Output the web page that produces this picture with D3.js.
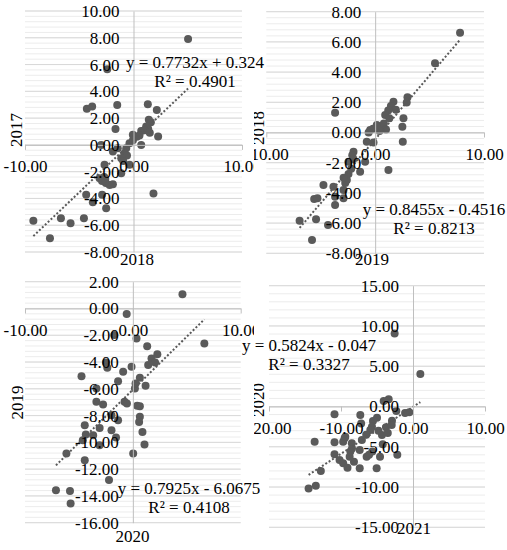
<!DOCTYPE html>
<html>
<head>
<meta charset="utf-8">
<script src="https://cdn.jsdelivr.net/npm/d3@7"></script>
</head>
<body style="margin:0">
<svg id="js-chart" width="507" height="550"></svg>
<script>

// data: [x, y] pairs
const pts2018vs2017 = [
	[5.03, 7.91], [-2.42, 5.65], [-4.3, 2.69], [-3.81, 2.86], [-1.5, 2.98], [-1.66, 1.19],
	[1.32, 3.04], [2.15, 2.61], [1.41, 1.87], [1.6, 1.7], [1.17, 1.37], [1.35, 1.2],
	[0.71, 1.04], [1.0, 1.1], [1.5, 0.9], [2.27, 0.62], [-0.06, 0.75], [0.3, 0.6],
	[0.55, 0.7], [0.71, 0.0], [-0.37, 0.12], [-0.05, 0.35], [-0.67, -0.25], [-0.83, -0.62],
	[-0.6, -0.8], [-1.13, -1.0], [-0.95, -1.2], [-2.98, 0.0], [-1.9, -0.5], [-1.45, -0.25],
	[-2.67, -1.49], [-0.37, -1.49], [-1.13, -2.11], [-3.13, -2.49], [-2.7, -2.4], [-2.9, -2.7],
	[-2.55, -2.85], [-2.2, -3.0], [-2.6, -2.55], [-1.9, -2.94], [-4.36, -3.73], [-2.89, -3.73],
	[-3.75, -4.28], [-2.52, -4.73], [1.84, -3.63], [-9.23, -5.67], [-7.7, -6.97], [-6.69, -5.47],
	[-5.8, -5.85], [-4.57, -5.47]
];
const pts2019vs2018 = [
	[7.8, 6.61], [5.5, 4.58], [2.97, 2.33], [2.9, 1.98], [1.68, 2.04], [1.45, 1.75],
	[1.9, 1.5], [1.2, 1.45], [0.92, 1.16], [1.3, 0.95], [2.6, 0.94], [2.5, 0.38],
	[2.54, -0.61], [1.22, -2.48], [-3.68, 1.31], [0.15, 0.5], [0.5, 0.35], [0.8, 0.6],
	[1.0, 0.2], [0.4, 0.1], [-0.2, 0.25], [-0.46, 0.17], [-0.6, 0.0], [-0.77, -0.61],
	[-0.15, -0.67], [-0.92, -1.93], [-1.99, -1.27], [-2.1, -1.5], [-2.0, -1.75], [-2.45, -1.93],
	[-1.38, -2.6], [-2.2, -2.4], [-2.45, -2.75], [-2.6, -3.15], [-2.75, -3.35], [-2.9, -3.0],
	[-2.91, -3.81], [-3.83, -3.59], [-4.75, -3.48], [-3.68, -4.25], [-2.91, -4.36], [-3.68, -4.8],
	[-5.6, -4.4], [-5.3, -4.35], [-5.43, -5.75], [-4.33, -6.13], [-6.94, -5.84], [-5.8, -7.12]
];
const pts2020vs2019 = [
	[4.6, 1.07], [-0.57, -0.42], [6.63, -2.61], [0.34, -2.24], [1.33, -2.82], [2.27, -3.41],
	[1.73, -3.73], [2.06, -4.03], [1.42, -4.23], [-0.12, -4.36], [-2.49, -4.03], [-2.37, -4.42],
	[-4.76, -5.06], [-0.9, -4.73], [-1.37, -5.43], [0.65, -5.18], [0.19, -5.97], [0.25, -5.6],
	[1.18, -5.78], [-1.72, -1.99], [-3.38, -5.97], [-3.38, -6.97], [-2.76, -7.17], [-0.77, -6.97],
	[-0.55, -7.1], [0.4, -7.27], [0.65, -7.3], [0.65, -8.09], [0.58, -8.47], [-1.37, -8.34],
	[-1.98, -7.97], [-4.46, -8.72], [-3.08, -8.92], [-1.98, -9.09], [-4.36, -9.41], [0.89, -9.22],
	[-3.68, -9.46], [-1.56, -9.63], [-4.64, -9.84], [-3.09, -10.21], [1.08, -10.16], [0.03, -10.83],
	[-6.16, -10.83], [-4.46, -11.33], [-2.21, -12.82], [-7.13, -13.57], [-5.83, -13.64], [-5.77, -14.56]
];
const pts2021vs2020 = [
	[-2.55, 9.08], [1.02, 4.03], [-4.07, 0.68], [-3.38, 0.89], [-2.32, -0.56], [-0.51, -0.72],
	[-1.1, -0.8], [-2.92, -1.76], [-3.75, -2.59], [-4.31, -3.54], [-5.56, -1.8], [-5.7, -2.5],
	[-5.93, -2.92], [-7.32, -1.06], [-7.2, -2.1], [-10.9, -0.97], [-9.5, -3.95], [-9.7, -4.37],
	[-10.9, -4.45], [-13.66, -4.37], [-10.9, -5.94], [-10.2, -6.64], [-9.7, -7.06], [-8.8, -6.23],
	[-8.47, -5.2], [-9.1, -7.6], [-8.2, -6.85], [-7.4, -7.67], [-7.4, -5.4], [-7.1, -4.16],
	[-6.44, -6.23], [-6.1, -6.0], [-5.65, -5.6], [-4.58, -6.23], [-2.18, -6.0], [-5.05, -7.67],
	[-12.8, -8.0], [-14.5, -10.17], [-13.5, -9.83], [-2.96, -2.3], [-4.8, -3.0], [-5.0, -1.4],
	[-8.5, -4.57], [-9.4, -3.75], [-8.7, -5.6], [-3.5, -3.3], [-6.5, -3.5], [-4.2, -4.7]
];

const xTitles = ['2018', '2019', '2020', '2021'];
const yTitles = ['2017', '2018', '2019', '2020'];
const xDomains = [[-10, 10], [-10, 10], [-10, 10], [-20, 10]];
const yDomains = [[-8, 10], [-8, 8], [-16, 2], [-15, 15]];
const xSteps = [10, 10, 10, 10];
const ySteps = [2, 2, 2, 5];

// linear trendlines as printed on the chart
const slopes = [0.7732, 0.8455, 0.7925, 0.5824];
const intercepts = [0.324, -0.4516, -6.0675, -0.047];
const rSquared = [0.4901, 0.8213, 0.4108, 0.3327];

// layout
const layout = [
	{ box: [0, 0, 254, 275], plot: [25, 11, 242, 252], xt: [137, 265], yt: [22, 130], eq: [195, 68] },
	{ box: [254, 0, 253, 275], plot: [266.3, 11.7, 484, 253.3], xt: [372, 265], yt: [264, 128], eq: [434, 215] },
	{ box: [0, 275, 254, 275], plot: [25, 281.7, 240.7, 522.7], xt: [132.5, 541.5], yt: [23, 402.5], eq: [189, 494] },
	{ box: [254, 275, 253, 275], plot: [269, 285.7, 485, 527.3], xt: [414, 534], yt: [264, 400], eq: [309, 351] },
];
const allPts = [pts2018vs2017, pts2019vs2018, pts2020vs2019, pts2021vs2020];

const fontSize = 17;
const fmt = (d) => d.toFixed(2);

// every text gets its own font attributes
const typeset = (sel) => sel
	.attr('font-family', '"Liberation Serif"')
	.attr('font-size', fontSize)
	.attr('fill', '#000');

const svg = d3.select('#js-chart');
svg.append('rect').attr('width', 507).attr('height', 550).attr('fill', '#fff');

const defs = svg.append('defs');

layout.forEach((L, i) => {
	const [bx, by, bw, bh] = L.box;
	const [left, top, right, bottom] = L.plot;

	defs.append('clipPath').attr('id', `clip${i}`)
		.append('rect').attr('x', bx).attr('y', by).attr('width', bw).attr('height', bh);

	const x = d3.scaleLinear().domain(xDomains[i]).range([left, right]);
	const y = d3.scaleLinear().domain(yDomains[i]).range([bottom, top]);

	const g = svg.append('g').attr('clip-path', `url(#clip${i})`);

	// gridlines, minor then major
	const [y0, y1] = yDomains[i];
	const minor = d3.range(y0, y1 + 1e-9, ySteps[i] / 5);
	const major = d3.range(y0, y1 + 1e-9, ySteps[i]);

	g.append('g').selectAll('line').data(minor).join('line')
		.attr('x1', left).attr('x2', right)
		.attr('y1', d => y(d)).attr('y2', d => y(d))
		.attr('stroke', '#ececec').attr('stroke-width', 1);
	g.append('g').selectAll('line').data(major).join('line')
		.attr('x1', left).attr('x2', right)
		.attr('y1', d => y(d)).attr('y2', d => y(d))
		.attr('stroke', '#d9d9d9').attr('stroke-width', 1);

	// axes crossing at zero
	const xAxis = g.append('g')
		.attr('transform', `translate(0, ${y(0)})`)
		.call(d3.axisBottom(x)
			.tickValues(d3.range(xDomains[i][0], xDomains[i][1] + 1e-9, xSteps[i]))
			.tickFormat(fmt)
			.tickSize(5).tickSizeOuter(0).tickPadding(10));

	const yAxis = g.append('g')
		.attr('transform', `translate(${x(0)}, 0)`)
		.call(d3.axisLeft(y)
			.tickValues(major)
			.tickFormat(fmt)
			.tickSize(0).tickSizeOuter(0).tickPadding(14));

	[xAxis, yAxis].forEach((ax) => {
		ax.attr('font-family', null).attr('font-size', null);
		ax.select('.domain').attr('stroke', '#bfbfbf');
		ax.selectAll('.tick line').attr('stroke', '#bfbfbf');
		ax.selectAll('.tick text').call(typeset);
	});

	// points
	g.append('g').selectAll('circle').data(allPts[i]).join('circle')
		.attr('cx', d => x(d[0]))
		.attr('cy', d => y(d[1]))
		.attr('r', 4)
		.attr('fill', '#5a5a5a');

	// dotted trendline across the data range
	const ext = d3.extent(allPts[i], d => d[0]);
	g.append('line')
		.attr('x1', x(ext[0])).attr('y1', y(slopes[i] * ext[0] + intercepts[i]))
		.attr('x2', x(ext[1])).attr('y2', y(slopes[i] * ext[1] + intercepts[i]))
		.attr('stroke', '#595959')
		.attr('stroke-width', 2)
		.attr('stroke-dasharray', '2,2');

	// bring labels above marks
	xAxis.raise();
	yAxis.raise();

	// axis titles
	g.append('text')
		.attr('x', L.xt[0]).attr('y', L.xt[1])
		.attr('text-anchor', 'middle')
		.call(typeset)
		.text(xTitles[i]);
	g.append('text')
		.attr('transform', `translate(${L.yt[0]}, ${L.yt[1]}) rotate(-90)`)
		.attr('text-anchor', 'middle')
		.call(typeset)
		.text(yTitles[i]);
});

// trendline labels drawn last, they run over the panel edges
layout.forEach((L, i) => {
	const b = intercepts[i];
	const eq = `y = ${slopes[i]}x ${b < 0 ? '-' : '+'} ${Math.abs(b)}`;
	const lines = [eq, `R² = ${rSquared[i]}`];
	svg.append('g').selectAll('text').data(lines).join('text')
		.attr('x', L.eq[0])
		.attr('y', (d, k) => L.eq[1] + k * 18.5)
		.attr('text-anchor', 'middle')
		.call(typeset)
		.text(d => d);
});

</script>
</body>
</html>
